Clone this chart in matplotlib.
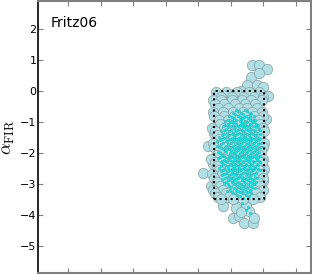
import matplotlib
matplotlib.use("Agg")
import matplotlib.pyplot as plt

plt.rcParams['mathtext.fontset'] = 'cm'

# Large light-blue circles: outliers / tail (x, y)
tail_x = [5.65, 5.86, 6.11, 5.62, 5.86, 5.49, 5.80, 5.31, 5.99, 6.08, 5.06,
          4.29, 4.14, 4.38, 4.44, 4.75, 5.06, 5.25, 5.40, 5.68, 5.56, 5.15, 5.71, 5.99, 6.03,
          4.63, 6.14, 4.75, 4.48, 6.08, 5.45, 5.30]
tail_y = [0.84, 0.84, 0.71, 0.45, 0.58, 0.19, 0.19, 0.00, 0.13, -0.16, -0.10,
          -1.77, -2.65, -3.06, -2.35, -3.71, -4.10, -4.03, -4.26, -4.26, -3.87, -3.77, -4.10, -2.90, -2.52,
          -0.22, -0.16, -0.65, -1.35, -0.90, -3.65, -3.90]

# Large light-blue circles inside the box, by row: (y, [x values])
big_rows = [
    (-0.05, [4.55, 4.85, 5.20, 5.55, 5.85]),
    (-0.18, [4.70, 5.02, 5.38, 5.70, 5.98]),
    (-0.30, [4.45, 4.70, 5.02, 5.35, 5.63, 5.95]),
    (-0.43, [4.52, 4.78, 5.12, 5.42, 5.75]),
    (-0.55, [4.60, 4.92, 5.25, 5.50, 5.80]),
    (-0.68, [4.45, 4.75, 5.05, 5.38, 5.65, 5.95]),
    (-0.80, [4.48, 4.80, 5.10, 5.40, 5.72, 6.00]),
    (-0.93, [4.62, 4.90, 5.22, 5.52, 5.85]),
    (-1.05, [4.65, 4.95, 5.30, 5.60, 5.90]),
    (-1.18, [4.42, 4.78, 5.05, 5.38, 5.68, 5.98]),
    (-1.30, [4.50, 4.85, 5.15, 5.45, 5.75, 6.02]),
    (-1.43, [4.58, 4.90, 5.22, 5.52, 5.82]),
    (-1.55, [4.62, 4.98, 5.28, 5.58, 5.88]),
    (-1.68, [4.45, 4.75, 5.12, 5.42, 5.72, 6.02]),
    (-1.80, [4.47, 4.78, 5.08, 5.40, 5.70, 5.98]),
    (-1.93, [4.62, 4.95, 5.28, 5.60, 5.92]),
    (-2.05, [4.58, 4.90, 5.22, 5.52, 5.85]),
    (-2.18, [4.40, 4.78, 5.10, 5.40, 5.75, 6.00]),
    (-2.30, [4.50, 4.75, 5.05, 5.35, 5.65, 5.95]),
    (-2.43, [4.58, 4.88, 5.18, 5.48, 5.80]),
    (-2.55, [4.62, 4.95, 5.25, 5.55, 5.85]),
    (-2.68, [4.42, 4.72, 5.02, 5.35, 5.65, 5.95]),
    (-2.80, [4.48, 4.80, 5.12, 5.42, 5.72, 6.00]),
    (-2.93, [4.58, 4.90, 5.22, 5.52, 5.82]),
    (-3.05, [4.65, 4.98, 5.30, 5.60, 5.90]),
    (-3.18, [4.45, 4.75, 5.08, 5.40, 5.70, 5.98]),
    (-3.30, [4.52, 4.85, 5.18, 5.48, 5.78]),
    (-3.42, [4.60, 4.95, 5.25, 5.55, 5.88]),
    (-3.50, [4.70, 5.05, 5.38, 5.68]),
]
big_x = tail_x + [x for y, xs in big_rows for x in xs]
big_y = tail_y + [y for y, xs in big_rows for x in xs]

# Small cyan points, by row: (y, [x values])
small_rows = [
    (-0.62, [5.15, 5.42]),
    (-0.66, [5.25, 5.50]),
    (-0.71, [5.05, 5.30, 5.58]),
    (-0.75, [5.12, 5.38, 5.62]),
    (-0.80, [4.95, 5.22, 5.47, 5.70]),
    (-0.84, [5.02, 5.28, 5.41, 5.60]),
    (-0.88, [5.10, 5.35, 5.52]),
    (-0.93, [4.90, 5.17, 5.32, 5.57, 5.74]),
    (-0.97, [4.82, 5.03, 5.27, 5.44, 5.66]),
    (-1.01, [4.97, 5.10, 5.35, 5.50, 5.69]),
    (-1.05, [4.90, 5.15, 5.38, 5.59, 5.78]),
    (-1.09, [4.83, 5.06, 5.27, 5.44, 5.63, 5.82]),
    (-1.13, [4.75, 5.00, 5.21, 5.33, 5.50, 5.71]),
    (-1.17, [4.92, 5.13, 5.39, 5.56, 5.78]),
    (-1.22, [4.85, 5.08, 5.26, 5.45, 5.63, 5.85]),
    (-1.26, [4.78, 4.99, 5.19, 5.33, 5.51, 5.70, 5.90]),
    (-1.30, [4.68, 4.95, 5.14, 5.36, 5.55, 5.74]),
    (-1.34, [4.87, 5.07, 5.25, 5.42, 5.61, 5.81]),
    (-1.38, [4.80, 5.02, 5.19, 5.31, 5.48, 5.67, 5.88]),
    (-1.42, [4.71, 4.94, 5.13, 5.37, 5.55, 5.74]),
    (-1.47, [4.62, 4.88, 5.10, 5.27, 5.42, 5.60, 5.79]),
    (-1.51, [4.80, 5.03, 5.21, 5.36, 5.47, 5.65, 5.85]),
    (-1.55, [4.73, 4.97, 5.16, 5.34, 5.52, 5.70, 5.90]),
    (-1.59, [4.66, 4.90, 5.09, 5.28, 5.45, 5.62, 5.81]),
    (-1.63, [4.58, 4.84, 5.05, 5.23, 5.40, 5.58, 5.76]),
    (-1.68, [4.77, 4.99, 5.18, 5.35, 5.52, 5.71, 5.92]),
    (-1.72, [4.70, 4.92, 5.12, 5.29, 5.47, 5.65, 5.84]),
    (-1.76, [4.57, 4.86, 5.06, 5.24, 5.41, 5.59, 5.78]),
    (-1.80, [4.63, 4.81, 5.01, 5.19, 5.36, 5.53, 5.72, 5.93]),
    (-1.84, [4.70, 4.90, 5.14, 5.31, 5.49, 5.66, 5.86]),
    (-1.88, [4.76, 4.95, 5.09, 5.26, 5.44, 5.61, 5.80]),
    (-1.92, [4.82, 5.00, 5.21, 5.38, 5.56, 5.74]),
    (-1.97, [4.60, 4.86, 5.04, 5.17, 5.33, 5.50, 5.68, 5.87]),
    (-2.01, [4.67, 4.97, 5.08, 5.28, 5.46, 5.62, 5.81]),
    (-2.05, [4.72, 4.93, 5.11, 5.24, 5.41, 5.57, 5.76]),
    (-2.09, [4.79, 5.04, 5.19, 5.33, 5.52, 5.70, 5.89]),
    (-2.13, [4.66, 4.83, 5.00, 5.18, 5.35, 5.49, 5.64, 5.83]),
    (-2.17, [4.60, 4.90, 5.09, 5.26, 5.42, 5.58, 5.76]),
    (-2.22, [4.78, 4.96, 5.13, 5.29, 5.45, 5.60, 5.79]),
    (-2.26, [4.72, 4.86, 5.03, 5.20, 5.36, 5.52, 5.68, 5.85]),
    (-2.30, [4.69, 4.89, 5.06, 5.22, 5.38, 5.54, 5.71, 5.90]),
    (-2.34, [4.77, 4.96, 5.13, 5.29, 5.45, 5.62, 5.79]),
    (-2.38, [4.81, 4.99, 5.15, 5.32, 5.47, 5.66, 5.84]),
    (-2.42, [4.70, 4.91, 5.07, 5.23, 5.40, 5.55, 5.74]),
    (-2.47, [4.64, 4.90, 5.08, 5.25, 5.41, 5.58, 5.75]),
    (-2.51, [4.83, 5.02, 5.18, 5.35, 5.48, 5.66, 5.83]),
    (-2.55, [4.75, 4.97, 5.12, 5.30, 5.51, 5.69, 5.88]),
    (-2.59, [4.69, 4.92, 5.07, 5.25, 5.44, 5.62]),
    (-2.63, [4.86, 5.03, 5.20, 5.37, 5.56, 5.78]),
    (-2.67, [4.79, 4.99, 5.10, 5.31, 5.50, 5.70]),
    (-2.72, [4.71, 4.94, 5.14, 5.28, 5.46, 5.63]),
    (-2.76, [4.88, 5.07, 5.24, 5.35, 5.55, 5.74]),
    (-2.80, [4.83, 5.01, 5.21, 5.40, 5.59, 5.81]),
    (-2.84, [4.74, 4.97, 5.16, 5.46, 5.64]),
    (-2.88, [4.92, 5.10, 5.33, 5.52, 5.70]),
    (-2.92, [4.85, 5.02, 5.19, 5.39, 5.58, 5.78]),
    (-2.97, [4.78, 5.05, 5.26, 5.44, 5.64]),
    (-3.01, [4.90, 5.12, 5.31, 5.51, 5.70]),
    (-3.05, [4.95, 5.18, 5.37, 5.58]),
    (-3.09, [5.01, 5.24, 5.43, 5.64]),
    (-3.13, [5.08, 5.30, 5.50, 5.73]),
    (-3.18, [4.97, 5.14, 5.36, 5.57]),
    (-3.22, [4.88, 5.22, 5.45]),
    (-3.26, [5.04, 5.29, 5.51]),
    (-3.30, [5.12, 5.38, 5.62]),
    (-3.35, [5.20, 5.46]),
    (-3.40, [5.28, 5.55]),
    (-3.46, [5.37]),
    (-3.62, [5.35]),
    (-3.75, [5.52]),
    (-3.85, [5.45]),
    (-3.95, [5.60]),
]
small_x = [x for y, xs in small_rows for x in xs]
small_y = [y for y, xs in small_rows for x in xs]

box_x = [4.47, 6.02]
box_y = [-3.5, 0.0]

label = "Fritz06"
yticks = [-5, -4, -3, -2, -1, 0, 1, 2]
xticks = [0, 1, 2, 3, 4, 5, 6, 7]

fig = plt.figure(figsize=(3.12, 2.75), dpi=100)
ax = fig.add_axes([38/312, 2/275, (311-38)/312, (274-2)/275])

ax.scatter(big_x, big_y, s=55, c='#b0e0e6', edgecolors='#8fa9ac', linewidths=0.6, zorder=2)
ax.scatter(small_x, small_y, s=3, c='#00f0f0', edgecolors='#18a8a8', linewidths=0.25, zorder=3)

ax.plot([box_x[0], box_x[1], box_x[1], box_x[0], box_x[0]],
        [box_y[0], box_y[0], box_y[1], box_y[1], box_y[0]],
        color='black', linestyle=':', linewidth=1.5, zorder=4)

ax.set_xlim(-0.93, 7.46)
ax.set_ylim(-5.87, 2.9)
ax.set_xticks(xticks)
ax.set_xticklabels([])
ax.set_yticks(yticks)
ax.set_yticklabels([f"{t}".replace('-', '\u2212') for t in yticks])

ax.tick_params(direction='in', length=3.5, width=0.8, labelsize=8, pad=1,
               top=True, right=True, colors='#808080', labelcolor='black')

for side in ['top', 'right', 'bottom']:
    ax.spines[side].set_color('#808080')
    ax.spines[side].set_linewidth(1.5)
ax.spines['left'].set_color('black')
ax.spines['left'].set_linewidth(1.2)

ax.set_ylabel(r'$\alpha_{\rm FIR}$', fontsize=13, labelpad=2)
ax.text(0.045, 0.92, label, transform=ax.transAxes, fontsize=10, va='center', ha='left')

fig.savefig('out.png', dpi=100)
